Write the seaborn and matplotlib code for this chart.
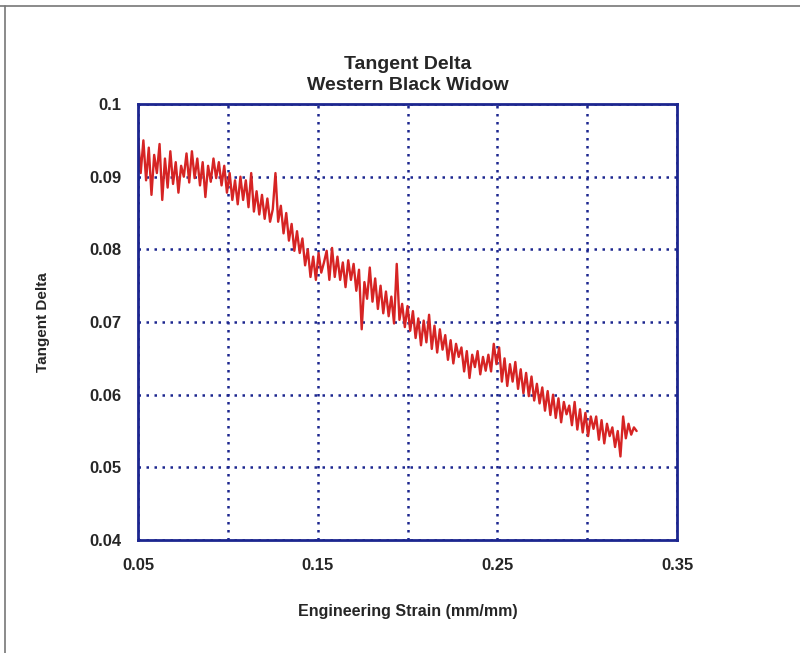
"""
Imports
"""
import numpy as np
import seaborn as sns
from matplotlib import pyplot as plt
from matplotlib.lines import Line2D


"""
# Data, read off the reference (Engineering strain vs tangent delta)
"""
strain = np.round(np.arange(0.050, 0.3276, 0.0015), 4)

tan_delta = [
    0.0955, 0.0905, 0.0950, 0.0895, 0.0940, 0.0875, 0.0930, 0.0905, 0.0945, 0.0868,
    0.0925, 0.0885, 0.0935, 0.0890, 0.0920, 0.0878, 0.0915, 0.0900, 0.0932, 0.0892,
    0.0935, 0.0898, 0.0925, 0.0888, 0.0920, 0.0872, 0.0915, 0.0893, 0.0925, 0.0898,
    0.0920, 0.0888, 0.0915, 0.0878, 0.0905, 0.0868, 0.0895, 0.0862, 0.0900, 0.0868,
    0.0895, 0.0858, 0.0905, 0.0852, 0.0880, 0.0848, 0.0875, 0.0842, 0.0870, 0.0838,
    0.0855, 0.0905, 0.0838, 0.0860, 0.0822, 0.0850, 0.0812, 0.0835, 0.0798, 0.0825,
    0.0795, 0.0815, 0.0778, 0.0800, 0.0762, 0.0790, 0.0758, 0.0795, 0.0768, 0.0782,
    0.0798, 0.0758, 0.0802, 0.0762, 0.0790, 0.0758, 0.0782, 0.0748, 0.0785, 0.0758,
    0.0780, 0.0743, 0.0772, 0.0690, 0.0755, 0.0732, 0.0775, 0.0728, 0.0760, 0.0718,
    0.0750, 0.0712, 0.0742, 0.0708, 0.0735, 0.0698, 0.0780, 0.0703, 0.0725, 0.0693,
    0.0722, 0.0688, 0.0715, 0.0678, 0.0705, 0.0668, 0.0702, 0.0672, 0.0710, 0.0663,
    0.0695, 0.0658, 0.0690, 0.0662, 0.0682, 0.0648, 0.0675, 0.0643, 0.0670, 0.0652,
    0.0665, 0.0632, 0.0660, 0.0623, 0.0655, 0.0638, 0.0660, 0.0628, 0.0652, 0.0633,
    0.0655, 0.0632, 0.0670, 0.0642, 0.0665, 0.0618, 0.0650, 0.0612, 0.0642, 0.0618,
    0.0645, 0.0608, 0.0635, 0.0602, 0.0630, 0.0598, 0.0625, 0.0592, 0.0615, 0.0588,
    0.0610, 0.0578, 0.0605, 0.0572, 0.0600, 0.0568, 0.0595, 0.0562, 0.0590, 0.0573,
    0.0585, 0.0558, 0.0590, 0.0552, 0.0580, 0.0548, 0.0575, 0.0543, 0.0570, 0.0553,
    0.0570, 0.0538, 0.0565, 0.0533, 0.0560, 0.0543, 0.0555, 0.0528, 0.0550, 0.0515,
    0.0570, 0.0540, 0.0560, 0.0545, 0.0555, 0.0550,
]

x_ticks = [0.05, 0.15, 0.25, 0.35]
x_tick_labels = ['0.05', '0.15', '0.25', '0.35']
x_minor = [0.10, 0.20, 0.30]
y_ticks = [0.04, 0.05, 0.06, 0.07, 0.08, 0.09, 0.1]
y_tick_labels = ['0.04', '0.05', '0.06', '0.07', '0.08', '0.09', '0.1']


"""
# Plot
"""
sns.set_style('white')
plt.rcParams['font.family'] = ['Liberation Sans Narrow', 'Liberation Sans', 'DejaVu Sans']
plt.rcParams['font.weight'] = 'bold'

navy = '#1c268f'

fig = plt.figure(figsize=(8, 6.53), dpi=100)
ax = fig.add_axes([0.1725, 0.173, 0.6738, 0.6677])

sns.lineplot(x=strain[:len(tan_delta)], y=tan_delta, ax=ax, color='#d62424',
             linewidth=1.7, estimator=None, sort=False)

ax.set_xlim(0.05, 0.35)
ax.set_ylim(0.04, 0.1)
ax.set_xticks(x_ticks)
ax.set_xticklabels(x_tick_labels, fontsize=12, fontweight='bold')
ax.set_xticks(x_minor, minor=True)
ax.set_yticks(y_ticks)
ax.set_yticklabels(y_tick_labels, fontsize=12, fontweight='bold')
ax.tick_params(axis='both', which='both', length=0)
ax.tick_params(axis='x', pad=13)
ax.tick_params(axis='y', pad=12)

ax.grid(True, which='both', color=navy, linestyle=(0, (1, 2.2)), linewidth=1.8)
for s in ax.spines.values():
    s.set_color(navy)
    s.set_linewidth(2)

ax.set_xlabel('Engineering Strain (mm/mm)', fontsize=11.5, fontweight='bold', labelpad=22)
ax.set_ylabel('Tangent Delta', fontsize=11, fontweight='bold', labelpad=28)
ax.set_title('Tangent Delta\nWestern Black Widow', fontsize=14, fontweight='bold',
             linespacing=1.3, pad=10)

# thin frame at top and left edges of the image
fig.add_artist(Line2D([0, 1], [0.991, 0.991], color='#777777', linewidth=1.2,
                      transform=fig.transFigure))
fig.add_artist(Line2D([0.006, 0.006], [0, 0.991], color='#777777', linewidth=1.2,
                      transform=fig.transFigure))

plt.savefig('out.png', dpi=100)
